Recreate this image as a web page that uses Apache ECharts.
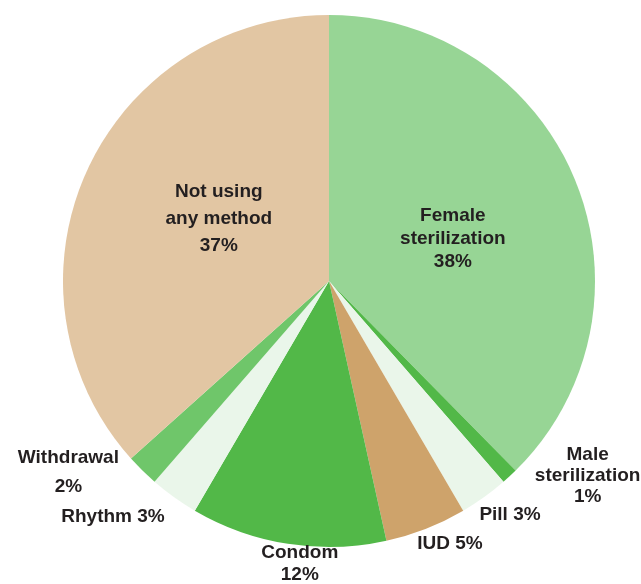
<!DOCTYPE html>
<html>
<head>
<meta charset="utf-8">
<title>Contraceptive method mix</title>
<script src="https://cdn.jsdelivr.net/npm/echarts@6/dist/echarts.min.js"></script>
<style>
  html, body { margin: 0; padding: 0; background: #ffffff; }
  #chart { width: 641px; height: 584px; }
</style>
</head>
<body>
<div id="chart"></div>
<script>
// Share of women by contraceptive method (percent), clockwise from 12 o'clock
const categories = ['Female sterilization', 'Male sterilization', 'Pill', 'IUD', 'Condom', 'Rhythm', 'Withdrawal', 'Not using any method'];
const shares = [38, 1, 3, 5, 12, 3, 2, 37];
const labelNames = ['Female\nsterilization', 'Male\nsterilization', 'Pill', 'IUD', 'Condom', 'Rhythm', 'Withdrawal', 'Not using\nany method'];

// Slice colours and label placement settings
const sliceColors = ['#97d595', '#52b848', '#eaf6ea', '#cea36b', '#52b848', '#eaf6ea', '#6fc66a', '#e2c6a3'];
const insideLabel = [true, false, false, false, false, false, false, true];
const sameLine = [false, false, true, true, false, true, false, false];
const lineHeights = [23, 21, 22, 22, 22, 22, 29, 27];
// Offsets [dx, dy] of each label's centre from the library's anchor point
const nudges = [[-2, 9], [73, 0], [21, 18], [19, 15], [17, 20], [-56, 20], [-69, 2], [14, -7]];

const chart = echarts.init(document.getElementById('chart'), null, { renderer: 'canvas' });

const data = categories.map((name, i) => ({
  name: name,
  value: shares[i],
  itemStyle: { color: sliceColors[i] },
  label: {
    position: insideLabel[i] ? 'inside' : 'outside',
    lineHeight: lineHeights[i],
    formatter: labelNames[i] + (sameLine[i] ? ' ' : '\n') + shares[i] + '%'
  }
}));

const CX = 329;

chart.setOption({
  animation: false,
  backgroundColor: '#ffffff',
  series: [{
    type: 'pie',
    center: [CX, 281],
    radius: 266,
    startAngle: 90,
    clockwise: true,
    avoidLabelOverlap: false,
    data: data,
    itemStyle: { borderWidth: 0 },
    label: {
      show: true,
      color: '#231f20',
      fontFamily: '"Liberation Sans", Arial, Helvetica, sans-serif',
      fontWeight: 'bold',
      fontSize: 19,
      align: 'center'
    },
    labelLine: { show: false, length: 0, length2: 0 },
    labelLayout: function (p) {
      const i = p.dataIndex;
      const r = p.labelRect;
      let ax;
      if (insideLabel[i]) {
        ax = r.x + r.width / 2;
      } else {
        // outside labels hang off the slice edge: left-aligned on the right, right-aligned on the left
        ax = (r.x + r.width / 2 > CX) ? r.x : r.x + r.width;
      }
      const ay = r.y + r.height / 2;
      return {
        x: ax + nudges[i][0],
        y: ay + nudges[i][1],
        align: 'center',
        verticalAlign: 'middle'
      };
    },
    emphasis: { disabled: true }
  }]
});
</script>
</body>
</html>
